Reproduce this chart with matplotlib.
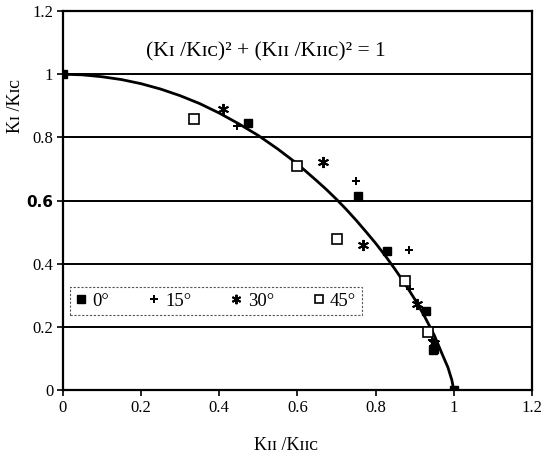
import numpy as np
import matplotlib
matplotlib.use("Agg")
import matplotlib.pyplot as plt

serif = ['Liberation Serif', 'DejaVu Serif']
plt.rcParams['font.family'] = serif

# data (KII/KIIC, KI/KIC)
x0 = [0.0, 0.473, 0.755, 0.829, 0.928, 0.946, 0.95, 1.0]
y0 = [1.0, 0.845, 0.616, 0.442, 0.249, 0.126, 0.13, 0.0]
x15 = [0.445, 0.749, 0.885, 0.887, 0.945]
y15 = [0.837, 0.663, 0.445, 0.319, 0.16]
x30 = [0.409, 0.665, 0.767, 0.905, 0.95]
y30 = [0.889, 0.723, 0.458, 0.272, 0.15]
x45 = [0.335, 0.598, 0.70, 0.875, 0.934]
y45 = [0.859, 0.710, 0.477, 0.347, 0.183]

# envelope curve as drawn in the figure
curve_x = [0.0, 0.05, 0.1, 0.15, 0.2, 0.25, 0.3, 0.35, 0.4, 0.45, 0.5, 0.55, 0.6,
           0.65, 0.675, 0.7, 0.725, 0.75, 0.775, 0.8, 0.825, 0.85, 0.875, 0.9,
           0.925, 0.95, 0.97, 0.985, 0.995, 1.0]
curve_y = [1.0, 0.998, 0.992, 0.983, 0.970, 0.953, 0.932, 0.907, 0.877, 0.843, 0.806, 0.763, 0.716,
           0.662, 0.634, 0.604, 0.572, 0.538, 0.502, 0.465, 0.425, 0.382, 0.337, 0.288,
           0.234, 0.174, 0.115, 0.072, 0.032, 0.0]

xticks = [0, 0.2, 0.4, 0.6, 0.8, 1, 1.2]
yticks = [0, 0.2, 0.4, 0.6, 0.8, 1, 1.2]
xticklabels = ['0', '0.2', '0.4', '0.6', '0.8', '1', '1.2']
yticklabels = ['0', '0.2', '0.4', '0.6', '0.8', '1', '1.2']

fig = plt.figure(figsize=(5.42, 4.59), dpi=100)
ax = fig.add_axes([0.116, 0.150, 0.8655, 0.826])

# grid lines
for yv in yticks[1:]:
    ax.axhline(yv, color='black', lw=1.4, zorder=1)

ax.plot(curve_x, curve_y, color='black', lw=2.0, zorder=2, solid_joinstyle='round')

ax.plot(x0, y0, ls='none', marker='s', ms=6, color='black', label='0°', zorder=3)
ax.plot(x15, y15, ls='none', marker='P', ms=6, color='black', mew=0, label='15°', zorder=3)
ax.plot(x30, y30, ls='none', marker=(6, 2, 0), ms=8, mew=1.4, color='black', label='30°', zorder=3)
ax.plot(x45, y45, ls='none', marker='s', ms=7, mfc='white', mec='black', mew=1.2, label='45°', zorder=3)

ax.set_xlim(0, 1.2)
ax.set_ylim(0, 1.2)
ax.set_xticks(xticks)
ax.set_xticklabels(xticklabels)
ax.set_yticks(yticks)
ax.set_yticklabels(yticklabels)
ax.tick_params(labelsize=12, length=4, width=1.2, direction='out', pad=3)
for lab in ax.get_yticklabels():
    if lab.get_text() == '0.6':
        lab.set_fontfamily('DejaVu Sans')
        lab.set_fontweight('bold')
        lab.set_fontsize(11)
for s in ax.spines.values():
    s.set_linewidth(1.6)
    s.set_color('black')

ax.text(0.52, 1.07, '(Kɪ /Kɪᴄ)² + (Kɪɪ /Kɪɪᴄ)² = 1', fontsize=15.5, ha='center', va='center',
        family=serif)

fig.text(0.527, 0.03, 'Kɪɪ /Kɪɪᴄ', fontsize=13, ha='center', va='center', family=serif)
fig.text(0.028, 0.77, 'Kɪ /Kɪᴄ', fontsize=13, ha='center', va='center', rotation=90, family=serif)

leg = ax.legend(loc='lower left', bbox_to_anchor=(0.015, 0.197, 0.622, 0.082), mode='expand',
                ncol=4, fontsize=13.5, frameon=True, fancybox=False, handlelength=0.6,
                handletextpad=0.3, columnspacing=1.2, borderpad=0.3, borderaxespad=0,
                markerscale=0.85)
fr = leg.get_frame()
fr.set_edgecolor('#555555')
fr.set_linestyle((0, (2, 1.5)))
fr.set_linewidth(0.8)
fr.set_facecolor('white')
fr.set_alpha(1)

fig.savefig('out.png', dpi=100)
